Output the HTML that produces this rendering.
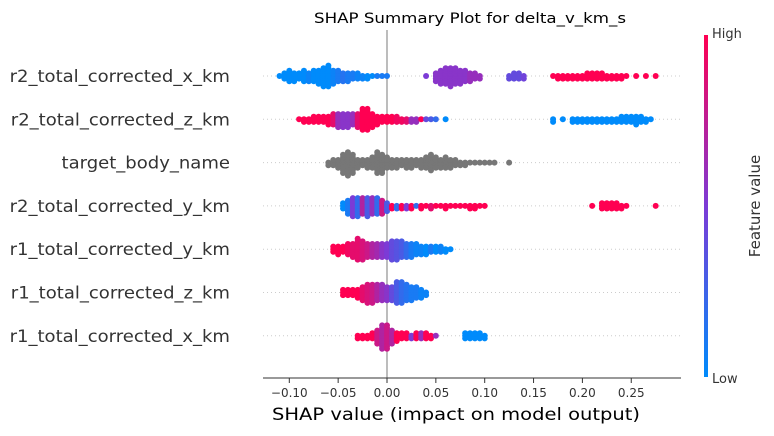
<!DOCTYPE html>
<html><head><meta charset="utf-8"><style>
html,body{margin:0;padding:0;background:#fff}
svg{display:block;font-family:"DejaVu Sans","Liberation Sans",sans-serif}
</style></head><body>
<svg id="chart" width="774" height="436" viewBox="0 0 774 436">
<defs><linearGradient id="cb" x1="0" y1="1" x2="0" y2="0">
<stop offset="0" stop-color="#008bfb"/><stop offset="0.5" stop-color="#7c3bd6"/><stop offset="1" stop-color="#ff0052"/></linearGradient></defs>
<text x="470" y="23" font-size="14" text-anchor="middle" fill="#000" textLength="312" lengthAdjust="spacingAndGlyphs">SHAP Summary Plot for delta_v_km_s</text>
<g id="grid"></g>
<line x1="387" y1="30" x2="387" y2="378" stroke="#999" stroke-width="1.3"/>
<g id="dots"></g>
<g id="labels"></g>
<line x1="263" y1="378" x2="681" y2="378" stroke="#333" stroke-width="1"/>
<g id="xticks"></g>
<text x="456" y="420" font-size="17" text-anchor="middle" fill="#000" textLength="368" lengthAdjust="spacingAndGlyphs">SHAP value (impact on model output)</text>
<rect x="704" y="35" width="4" height="342" fill="url(#cb)"/>
<text x="712" y="38" font-size="13" fill="#333">High</text>
<text x="712" y="383" font-size="13" fill="#333">Low</text>
<text x="760" y="206" font-size="15" fill="#333" text-anchor="middle" transform="rotate(-90 760 206)">Feature value</text>
</svg>
<script>
const features = ["r2_total_corrected_x_km","r2_total_corrected_z_km","target_body_name","r2_total_corrected_y_km","r1_total_corrected_y_km","r1_total_corrected_z_km","r1_total_corrected_x_km"];
const xTicks = [-0.10,-0.05,0.00,0.05,0.10,0.15,0.20,0.25];
// each bin: [shap value, number of samples, mean feature value (-1 = categorical/gray)]
const row0 = [[-0.110,1,0],[-0.105,3,0],[-0.100,5,0],[-0.095,4,0],[-0.090,3,0],[-0.085,5,0],[-0.080,4,0.05],[-0.075,5,0],[-0.070,6,0],[-0.065,8,0],[-0.060,9,0],[-0.055,6,0.05],[-0.050,5,0.1],[-0.045,4,0.15],[-0.040,4,0.1],[-0.035,3,0.1],[-0.030,3,0.05],[-0.025,2,0.05],[-0.020,2,0],[-0.015,1,0],[-0.010,1,0.1],[-0.005,1,0.1],[0.000,1,0.1],
[0.040,1,0.5],[0.050,4,0.55],[0.055,6,0.55],[0.060,7,0.55],[0.065,8,0.55],[0.070,7,0.55],[0.075,6,0.55],[0.080,5,0.55],[0.085,4,0.6],[0.090,3,0.6],[0.095,2,0.6],
[0.125,2,0.4],[0.130,3,0.4],[0.135,3,0.4],[0.140,2,0.45],
[0.170,1,1],[0.175,2,1],[0.180,2,1],[0.185,2,1],[0.190,2,1],[0.195,2,1],[0.200,2,1],[0.205,3,1],[0.210,3,1],[0.215,3,1],[0.220,3,1],[0.225,2,1],[0.230,2,1],[0.235,2,1],[0.240,2,1],[0.245,1,1],[0.255,1,1],[0.265,1,1],[0.275,1,1]];
const row1 = [[-0.090,1,1],[-0.085,2,1],[-0.080,2,1],[-0.075,3,1],[-0.070,3,1],[-0.065,3,1],[-0.060,4,1],[-0.055,5,0.9],[-0.050,6,0.6],[-0.045,6,0.55],[-0.040,6,0.55],[-0.035,5,0.6],[-0.030,6,0.9],[-0.025,9,1],[-0.020,9,1],[-0.015,6,1],[-0.010,4,1],[-0.005,3,1],[0.000,3,1],[0.005,3,1],[0.010,3,0.95],[0.015,2,0.95],[0.020,2,0.9],[0.025,2,0.6],[0.030,2,0.6],[0.035,1,1],[0.040,1,0.4],[0.045,1,0.3],[0.050,1,0.2],[0.060,1,0],
[0.170,2,0],[0.180,1,0],[0.190,2,0],[0.195,2,0],[0.200,2,0],[0.205,2,0],[0.210,2,0],[0.215,2,0],[0.220,2,0],[0.225,2,0],[0.230,2,0],[0.235,2,0],[0.240,3,0],[0.245,3,0],[0.250,3,0],[0.255,4,0],[0.260,3,0],[0.265,2,0],[0.270,1,0]];
const row2 = [[-0.060,2,-1],[-0.055,3,-1],[-0.050,4,-1],[-0.045,8,-1],[-0.040,10,-1],[-0.035,8,-1],[-0.030,4,-1],[-0.025,3,-1],[-0.020,4,-1],[-0.015,5,-1],[-0.010,9,-1],[-0.005,8,-1],[0.000,5,-1],[0.005,4,-1],[0.010,4,-1],[0.015,3,-1],[0.020,4,-1],[0.025,4,-1],[0.030,3,-1],[0.035,4,-1],[0.040,5,-1],[0.045,7,-1],[0.050,5,-1],[0.055,4,-1],[0.060,5,-1],[0.065,4,-1],[0.070,3,-1],[0.075,2,-1],[0.080,2,-1],[0.085,1,-1],[0.090,1,-1],[0.095,1,-1],[0.100,1,-1],[0.105,1,-1],[0.110,1,-1],[0.125,1,-1]];
const row3 = [[-0.045,3,0],[-0.040,6,0.1],[-0.035,8,0.5],[-0.030,8,0.2],[-0.025,7,0.7],[-0.020,8,0.3],[-0.015,7,0.6],[-0.010,7,0.2],[-0.005,6,0.8],[0.000,4,0.3],[0.005,2,1],[0.010,2,0.2],[0.015,2,1],[0.020,2,0.5],[0.025,2,1],[0.030,1,0.2],[0.035,2,1],[0.040,1,1],[0.045,2,0.9],[0.050,1,1],[0.055,1,1],[0.060,2,1],[0.065,1,1],[0.070,1,1],[0.075,1,1],[0.080,1,1],[0.085,2,1],[0.090,2,1],[0.095,1,1],[0.100,1,1],
[0.210,1,1],[0.220,3,1],[0.225,3,1],[0.230,3,1],[0.235,3,1],[0.240,2,1],[0.245,1,1],[0.275,1,1]];
const row4 = [[-0.055,3,1],[-0.050,4,1],[-0.045,3,1],[-0.040,5,0.95],[-0.035,6,0.9],[-0.030,9,0.9],[-0.025,8,0.85],[-0.020,6,0.8],[-0.015,6,0.7],[-0.010,6,0.65],[-0.005,6,0.55],[0.000,6,0.5],[0.005,8,0.4],[0.010,8,0.35],[0.015,7,0.3],[0.020,6,0.2],[0.025,6,0.1],[0.030,5,0.05],[0.035,4,0.05],[0.040,4,0],[0.045,3,0.1],[0.050,3,0],[0.055,3,0.05],[0.060,2,0],[0.065,1,0]];
const row5 = [[-0.045,3,1],[-0.040,3,1],[-0.035,3,1],[-0.030,4,1],[-0.025,6,0.9],[-0.020,8,0.85],[-0.015,8,0.8],[-0.010,7,0.7],[-0.005,7,0.6],[0.000,6,0.55],[0.005,6,0.4],[0.010,9,0.3],[0.015,9,0.2],[0.020,7,0.15],[0.025,6,0.1],[0.030,5,0.1],[0.035,4,0.05],[0.040,2,0.05]];
const row6 = [[-0.030,2,1],[-0.025,2,1],[-0.020,2,1],[-0.015,3,1],[-0.010,6,0.8],[-0.005,10,0.7],[0.000,10,0.8],[0.005,6,0.7],[0.010,4,1],[0.015,3,1],[0.020,3,1],[0.025,2,0.5],[0.030,3,1],[0.035,3,0.6],[0.040,3,1],[0.045,2,1],[0.050,1,0.6],
[0.080,3,0],[0.085,3,0],[0.090,3,0],[0.095,3,0],[0.100,2,0]];
const rows = [row0,row1,row2,row3,row4,row5,row6];

const NS="http://www.w3.org/2000/svg";
const xScale = v => 387 + v*977;
const yScale = i => 76 + i*43.3;
function color(f){
  if(f<0) return "#777777";
  const a=[0,139,251], m=[124,59,214], b=[255,0,82];
  let c;
  if(f<0.5){const t=f/0.5;c=a.map((v,k)=>v+(m[k]-v)*t);}else{const t=(f-0.5)/0.5;c=m.map((v,k)=>v+(b[k]-v)*t);}
  return "rgb("+c.map(Math.round).join(",")+")";
}
const grid=document.getElementById("grid"), dots=document.getElementById("dots"), labels=document.getElementById("labels"), xt=document.getElementById("xticks");
features.forEach((name,i)=>{
  const y=yScale(i);
  const g=document.createElementNS(NS,"line");
  g.setAttribute("x1",263);g.setAttribute("x2",681);g.setAttribute("y1",y);g.setAttribute("y2",y);
  g.setAttribute("stroke","#ccc");g.setAttribute("stroke-dasharray","1 3");g.setAttribute("stroke-width","1");
  
  
  grid.appendChild(g);
  const t=document.createElementNS(NS,"text");
  t.setAttribute("x",230);t.setAttribute("y",y+6);t.setAttribute("text-anchor","end");
  t.setAttribute("font-size","17");t.setAttribute("fill","#333");t.textContent=name;
  
  
  labels.appendChild(t);
  const w=t.getComputedTextLength();
  if(w>0){t.setAttribute("textLength",w*1.06);t.setAttribute("lengthAdjust","spacingAndGlyphs");}
  rows[i].forEach(b=>{
    const [v,n,f]=b;
    for(let k=0;k<n;k++){
      const off = k===0?0:(k%2?1:-1)*Math.ceil(k/2)*2.6;
      const c=document.createElementNS(NS,"circle");
      c.setAttribute("cx",xScale(v));c.setAttribute("cy",y+off);c.setAttribute("r",3);
      c.setAttribute("fill",color(f));
      
      
      dots.appendChild(c);
    }
  });
});
xTicks.forEach(v=>{
  const x=xScale(v);
  const l=document.createElementNS(NS,"line");
  l.setAttribute("x1",x);l.setAttribute("x2",x);l.setAttribute("y1",378);l.setAttribute("y2",383);l.setAttribute("stroke","#333");
  
  
  xt.appendChild(l);
  const t=document.createElementNS(NS,"text");
  t.setAttribute("x",x);t.setAttribute("y",397);t.setAttribute("text-anchor","middle");t.setAttribute("font-size","12");t.setAttribute("fill","#333");
  t.textContent=(v<0?"\u2212":"")+Math.abs(v).toFixed(2);
  
  
  xt.appendChild(t);
});
</script>
</body></html>
